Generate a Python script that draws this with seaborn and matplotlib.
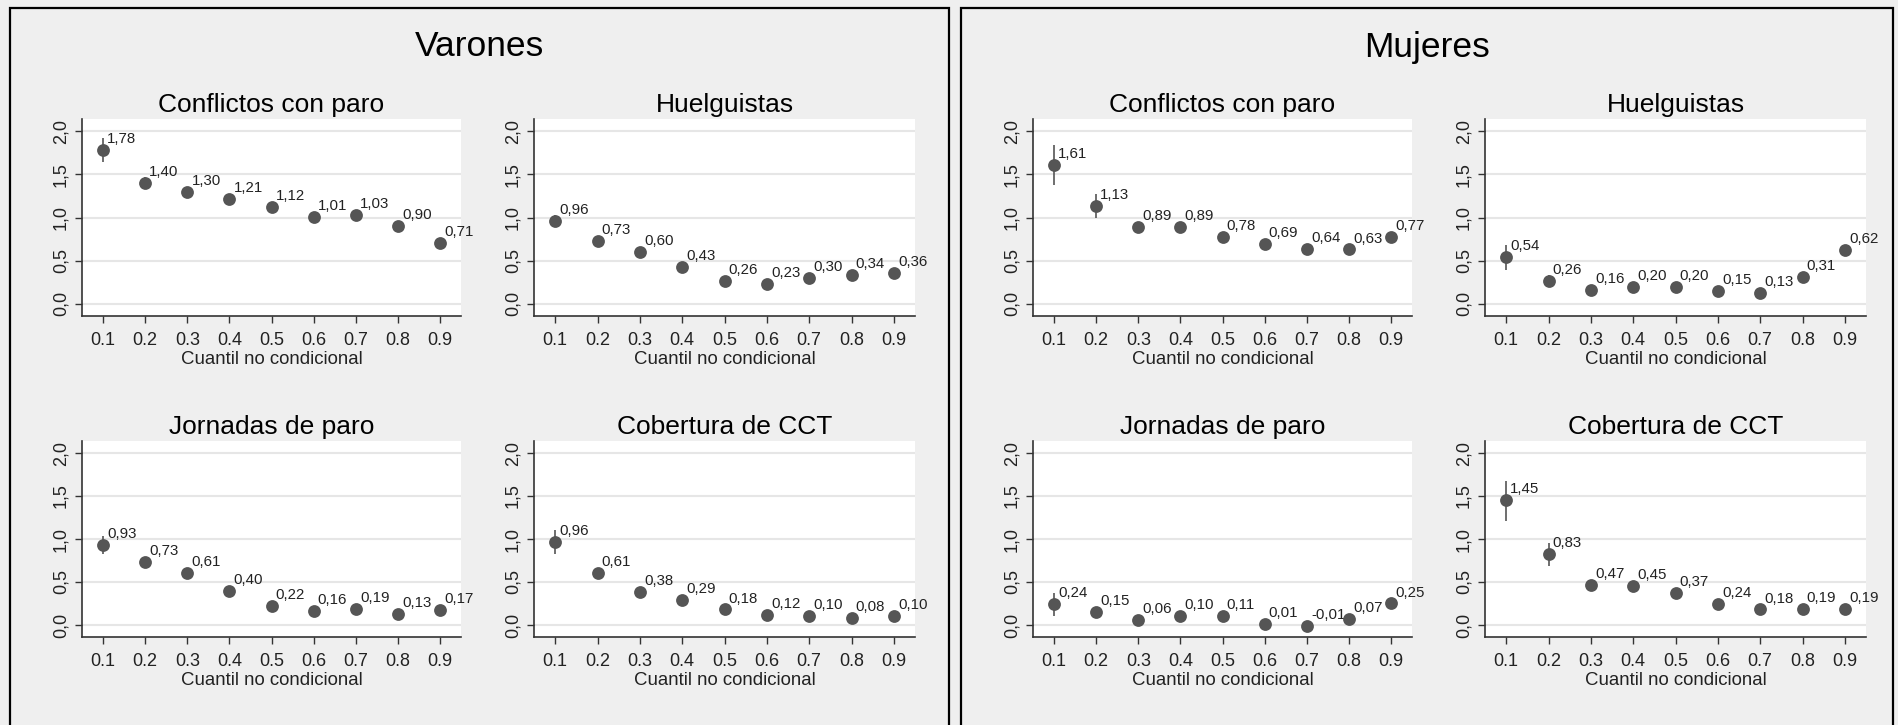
import numpy as np
import pandas as pd
import seaborn as sns
import matplotlib.pyplot as plt
from matplotlib.patches import Rectangle

sns.set_theme(style="white")
plt.rcParams['font.family'] = ['Liberation Sans', 'DejaVu Sans']

# Data
cuantiles = [0.1, 0.2, 0.3, 0.4, 0.5, 0.6, 0.7, 0.8, 0.9]
xtick_labels = ["0.1", "0.2", "0.3", "0.4", "0.5", "0.6", "0.7", "0.8", "0.9"]
yticks = [0.0, 0.5, 1.0, 1.5, 2.0]
ytick_labels = ["0,0", "0,5", "1,0", "1,5", "2,0"]
grupos = ["Varones", "Mujeres"]
paneles = ["Conflictos con paro", "Huelguistas", "Jornadas de paro", "Cobertura de CCT"]

# Varones
v_conflictos = [1.78, 1.40, 1.30, 1.21, 1.12, 1.01, 1.03, 0.90, 0.71]
v_conflictos_lo = [1.64, 1.33, 1.25, 1.17, 1.08, 0.97, 0.99, 0.86, 0.67]
v_conflictos_hi = [1.92, 1.47, 1.35, 1.25, 1.16, 1.05, 1.07, 0.94, 0.75]
v_huelguistas = [0.96, 0.73, 0.60, 0.43, 0.26, 0.23, 0.30, 0.34, 0.36]
v_huelguistas_lo = [0.89, 0.69, 0.57, 0.40, 0.23, 0.20, 0.27, 0.31, 0.33]
v_huelguistas_hi = [1.03, 0.77, 0.63, 0.46, 0.29, 0.26, 0.33, 0.37, 0.39]
v_jornadas = [0.93, 0.73, 0.61, 0.40, 0.22, 0.16, 0.19, 0.13, 0.17]
v_jornadas_lo = [0.83, 0.69, 0.58, 0.37, 0.19, 0.13, 0.16, 0.10, 0.14]
v_jornadas_hi = [1.03, 0.77, 0.64, 0.43, 0.25, 0.19, 0.22, 0.16, 0.20]
v_cobertura = [0.96, 0.61, 0.38, 0.29, 0.18, 0.12, 0.10, 0.08, 0.10]
v_cobertura_lo = [0.83, 0.57, 0.35, 0.26, 0.15, 0.09, 0.07, 0.05, 0.07]
v_cobertura_hi = [1.10, 0.65, 0.41, 0.32, 0.21, 0.15, 0.13, 0.11, 0.13]

# Mujeres
m_conflictos = [1.61, 1.13, 0.89, 0.89, 0.78, 0.69, 0.64, 0.63, 0.77]
m_conflictos_lo = [1.38, 0.99, 0.83, 0.85, 0.74, 0.65, 0.60, 0.59, 0.73]
m_conflictos_hi = [1.84, 1.27, 0.95, 0.93, 0.82, 0.73, 0.68, 0.67, 0.81]
m_huelguistas = [0.54, 0.26, 0.16, 0.20, 0.20, 0.15, 0.13, 0.31, 0.62]
m_huelguistas_lo = [0.39, 0.19, 0.12, 0.16, 0.16, 0.11, 0.09, 0.27, 0.58]
m_huelguistas_hi = [0.68, 0.33, 0.20, 0.24, 0.24, 0.19, 0.17, 0.35, 0.66]
m_jornadas = [0.24, 0.15, 0.06, 0.10, 0.11, 0.01, -0.01, 0.07, 0.25]
m_jornadas_lo = [0.11, 0.11, 0.02, 0.06, 0.07, -0.03, -0.05, 0.03, 0.21]
m_jornadas_hi = [0.37, 0.19, 0.10, 0.14, 0.15, 0.05, 0.03, 0.11, 0.29]
m_cobertura = [1.45, 0.83, 0.47, 0.45, 0.37, 0.24, 0.18, 0.19, 0.19]
m_cobertura_lo = [1.21, 0.69, 0.43, 0.41, 0.33, 0.20, 0.14, 0.15, 0.15]
m_cobertura_hi = [1.68, 0.95, 0.51, 0.49, 0.41, 0.28, 0.22, 0.23, 0.23]

series = {
    "Varones": [(v_conflictos, v_conflictos_lo, v_conflictos_hi),
                (v_huelguistas, v_huelguistas_lo, v_huelguistas_hi),
                (v_jornadas, v_jornadas_lo, v_jornadas_hi),
                (v_cobertura, v_cobertura_lo, v_cobertura_hi)],
    "Mujeres": [(m_conflictos, m_conflictos_lo, m_conflictos_hi),
                (m_huelguistas, m_huelguistas_lo, m_huelguistas_hi),
                (m_jornadas, m_jornadas_lo, m_jornadas_hi),
                (m_cobertura, m_cobertura_lo, m_cobertura_hi)],
}

W, H = 1898, 725
bg = '#efefef'
dot = '#555555'
fig = plt.figure(figsize=(W / 100, H / 100), dpi=100, facecolor=bg)

def rect(x0, x1, y0, y1):
    return [x0 / W, 1 - y1 / H, (x1 - x0) / W, (y1 - y0) / H]

# box layout in pixels
boxes = {"Varones": (10, 949), "Mujeres": (961, 1893)}
col_x = [(72, 451), (524, 905)]
row_y = [(119, 316), (441, 637)]

for g in grupos:
    bx0, bx1 = boxes[g]
    fig.add_artist(Rectangle((bx0 / W, -0.02), (bx1 - bx0) / W, 1.02 - 8 / H,
                             transform=fig.transFigure, fill=False,
                             edgecolor='black', linewidth=1.6))
    fig.text((bx0 + bx1) / 2 / W, 1 - 47 / H, g, ha='center', va='center',
             fontsize=25.5, color='black')
    for i, name in enumerate(paneles):
        r, c = divmod(i, 2)
        ax = fig.add_axes(rect(bx0 + col_x[c][0], bx0 + col_x[c][1], row_y[r][0], row_y[r][1]))
        vals, lo, hi = series[g][i]
        df = pd.DataFrame({"q": cuantiles, "coef": vals, "lo": lo, "hi": hi})
        ax.vlines(df["q"], df["lo"], df["hi"], color=dot, linewidth=1.2, zorder=3)
        sns.scatterplot(data=df, x="q", y="coef", ax=ax, color=dot, s=85,
                        edgecolor=dot, linewidth=0, zorder=4)
        for q, v in zip(df["q"], df["coef"]):
            ax.annotate(f"{v:.2f}".replace('.', ','), (q, v), xytext=(3, 5),
                        textcoords='offset points', ha='left', va='baseline',
                        fontsize=10.8, color='#222222', annotation_clip=False)
        ax.set_facecolor('white')
        ax.set_xlim(0.05, 0.95)
        ax.set_ylim(-0.14, 2.14)
        ax.set_xticks(cuantiles)
        ax.set_xticklabels(xtick_labels)
        ax.set_yticks(yticks)
        ax.set_yticklabels(ytick_labels, rotation=90, va='center')
        ax.grid(axis='y', color='#e6e6e6', linewidth=1.5)
        ax.set_axisbelow(True)
        for s in ['top', 'right']:
            ax.spines[s].set_visible(False)
        for s in ['left', 'bottom']:
            ax.spines[s].set_color('#333333')
            ax.spines[s].set_linewidth(1.2)
        ax.tick_params(axis='both', which='major', direction='out', length=5,
                       width=1, color='#333333', labelsize=13, labelcolor='#222222',
                       left=True, bottom=True)
        ax.tick_params(axis='x', pad=6.5)
        ax.tick_params(axis='y', pad=4)
        ax.set_xlabel("Cuantil no condicional", fontsize=13.4, labelpad=1.5, color='#222222')
        ax.set_ylabel("")
        ax.set_title(name, fontsize=19, pad=5, color='black')

fig.savefig("out.png", dpi=100, facecolor=bg)
